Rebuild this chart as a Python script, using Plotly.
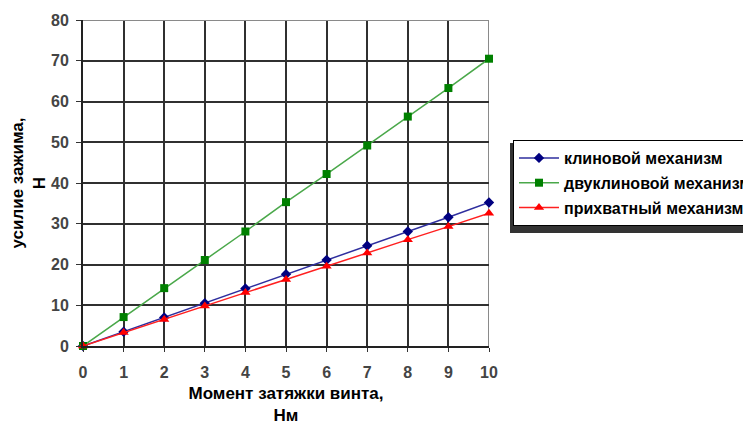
import plotly.graph_objects as go

x_vals = [0, 1, 2, 3, 4, 5, 6, 7, 8, 9, 10]
klin = [0, 3.5, 7.0, 10.5, 14.1, 17.6, 21.1, 24.6, 28.1, 31.6, 35.2]
dvuklin = [0, 7.1, 14.2, 21.1, 28.1, 35.3, 42.2, 49.2, 56.3, 63.3, 70.5]
prikhvat = [0, 3.3, 6.5, 9.8, 13.1, 16.3, 19.6, 22.8, 26.1, 29.3, 32.6]
y_ticks = [0, 10, 20, 30, 40, 50, 60, 70, 80]

names = ["клиновой механизм", "двуклиновой механизм", "прихватный механизм"]

fig = go.Figure()
fig.add_trace(go.Scatter(x=x_vals, y=klin, name=f"<b>{names[0]}</b>", mode="lines+markers",
                         line=dict(color="#2e2e9e", width=1.5),
                         marker=dict(symbol="diamond", size=8, color="#000080"),
                         cliponaxis=False, legendgroup="a"))
fig.add_trace(go.Scatter(x=x_vals, y=dvuklin, name=f"<b>{names[1]}</b>", mode="lines+markers",
                         line=dict(color="#4aa84a", width=1.5),
                         marker=dict(symbol="square", size=8, color="#008000"),
                         cliponaxis=False, legendgroup="b"))
fig.add_trace(go.Scatter(x=x_vals, y=prikhvat, name=f"<b>{names[2]}</b>", mode="lines+markers",
                         line=dict(color="#ff2020", width=1.5),
                         marker=dict(symbol="triangle-up", size=9, color="#ff0000"),
                         cliponaxis=False, legendgroup="c"))

FAM = "Liberation Sans, Arial"
tick_font = dict(family=FAM, size=16, color="#444", weight="bold")
title_font = dict(family=FAM, size=17, color="black", weight="bold")

# page body has an 8px offset; plot area in screen pixels: x 83..489, y 20..346
W, H = 800, 421
L, T = 75, 12
PW, PH = 406, 326
leg_x = (505 - L) / PW
leg_y = 1 - (132 - T) / PH
leg_h = 90 / PH

fig.update_layout(
    width=W, height=H,
    margin=dict(l=L, r=W - L - PW, t=T, b=H - T - PH, autoexpand=False),
    paper_bgcolor="white", plot_bgcolor="white",
    showlegend=True,
    legend=dict(x=leg_x, y=leg_y, xanchor="left", yanchor="top",
                bordercolor="black", borderwidth=1, bgcolor="white",
                font=dict(family=FAM, size=16, color="black"),
                tracegroupgap=1, itemwidth=40,
                entrywidth=300, entrywidthmode="pixels"),
    xaxis=dict(range=[0, 10], tickmode="array", tickvals=x_vals,
               showgrid=True, gridcolor="#303030", gridwidth=2,
               showline=True, linecolor="#222", linewidth=2,
               ticks="outside", ticklen=4, tickcolor="#333",
               tickfont=tick_font, zeroline=False, automargin=False,
               ticklabelstandoff=7,
               title=dict(text="Момент затяжки винта,<br>Нм", font=title_font, standoff=7)),
    yaxis=dict(range=[0, 80], tickmode="array", tickvals=y_ticks,
               showgrid=True, gridcolor="#303030", gridwidth=2,
               showline=True, linecolor="#222", linewidth=2,
               ticks="outside", ticklen=5, tickcolor="#333",
               tickfont=tick_font, zeroline=False, automargin=False,
               ticklabelstandoff=4,
               title=dict(text="усилие зажима,<br>Н", font=title_font, standoff=10)),
)

fig.add_shape(type="line", xref="x", yref="y", x0=0, x1=10, y0=80, y1=80,
              line=dict(color="#8a8a8a", width=2), layer="above")
fig.add_shape(type="line", xref="x", yref="y", x0=10, x1=10, y0=0, y1=80,
              line=dict(color="#8a8a8a", width=2), layer="below")
# legend shadow (left & bottom)
fig.add_shape(type="rect", xref="paper", yref="paper",
              x0=leg_x - 3 / PW, x1=2.0, y0=leg_y - leg_h - 3 / PH, y1=leg_y - 3 / PH,
              fillcolor="#333", line=dict(width=0), layer="above")

fig.write_html("out.html")
